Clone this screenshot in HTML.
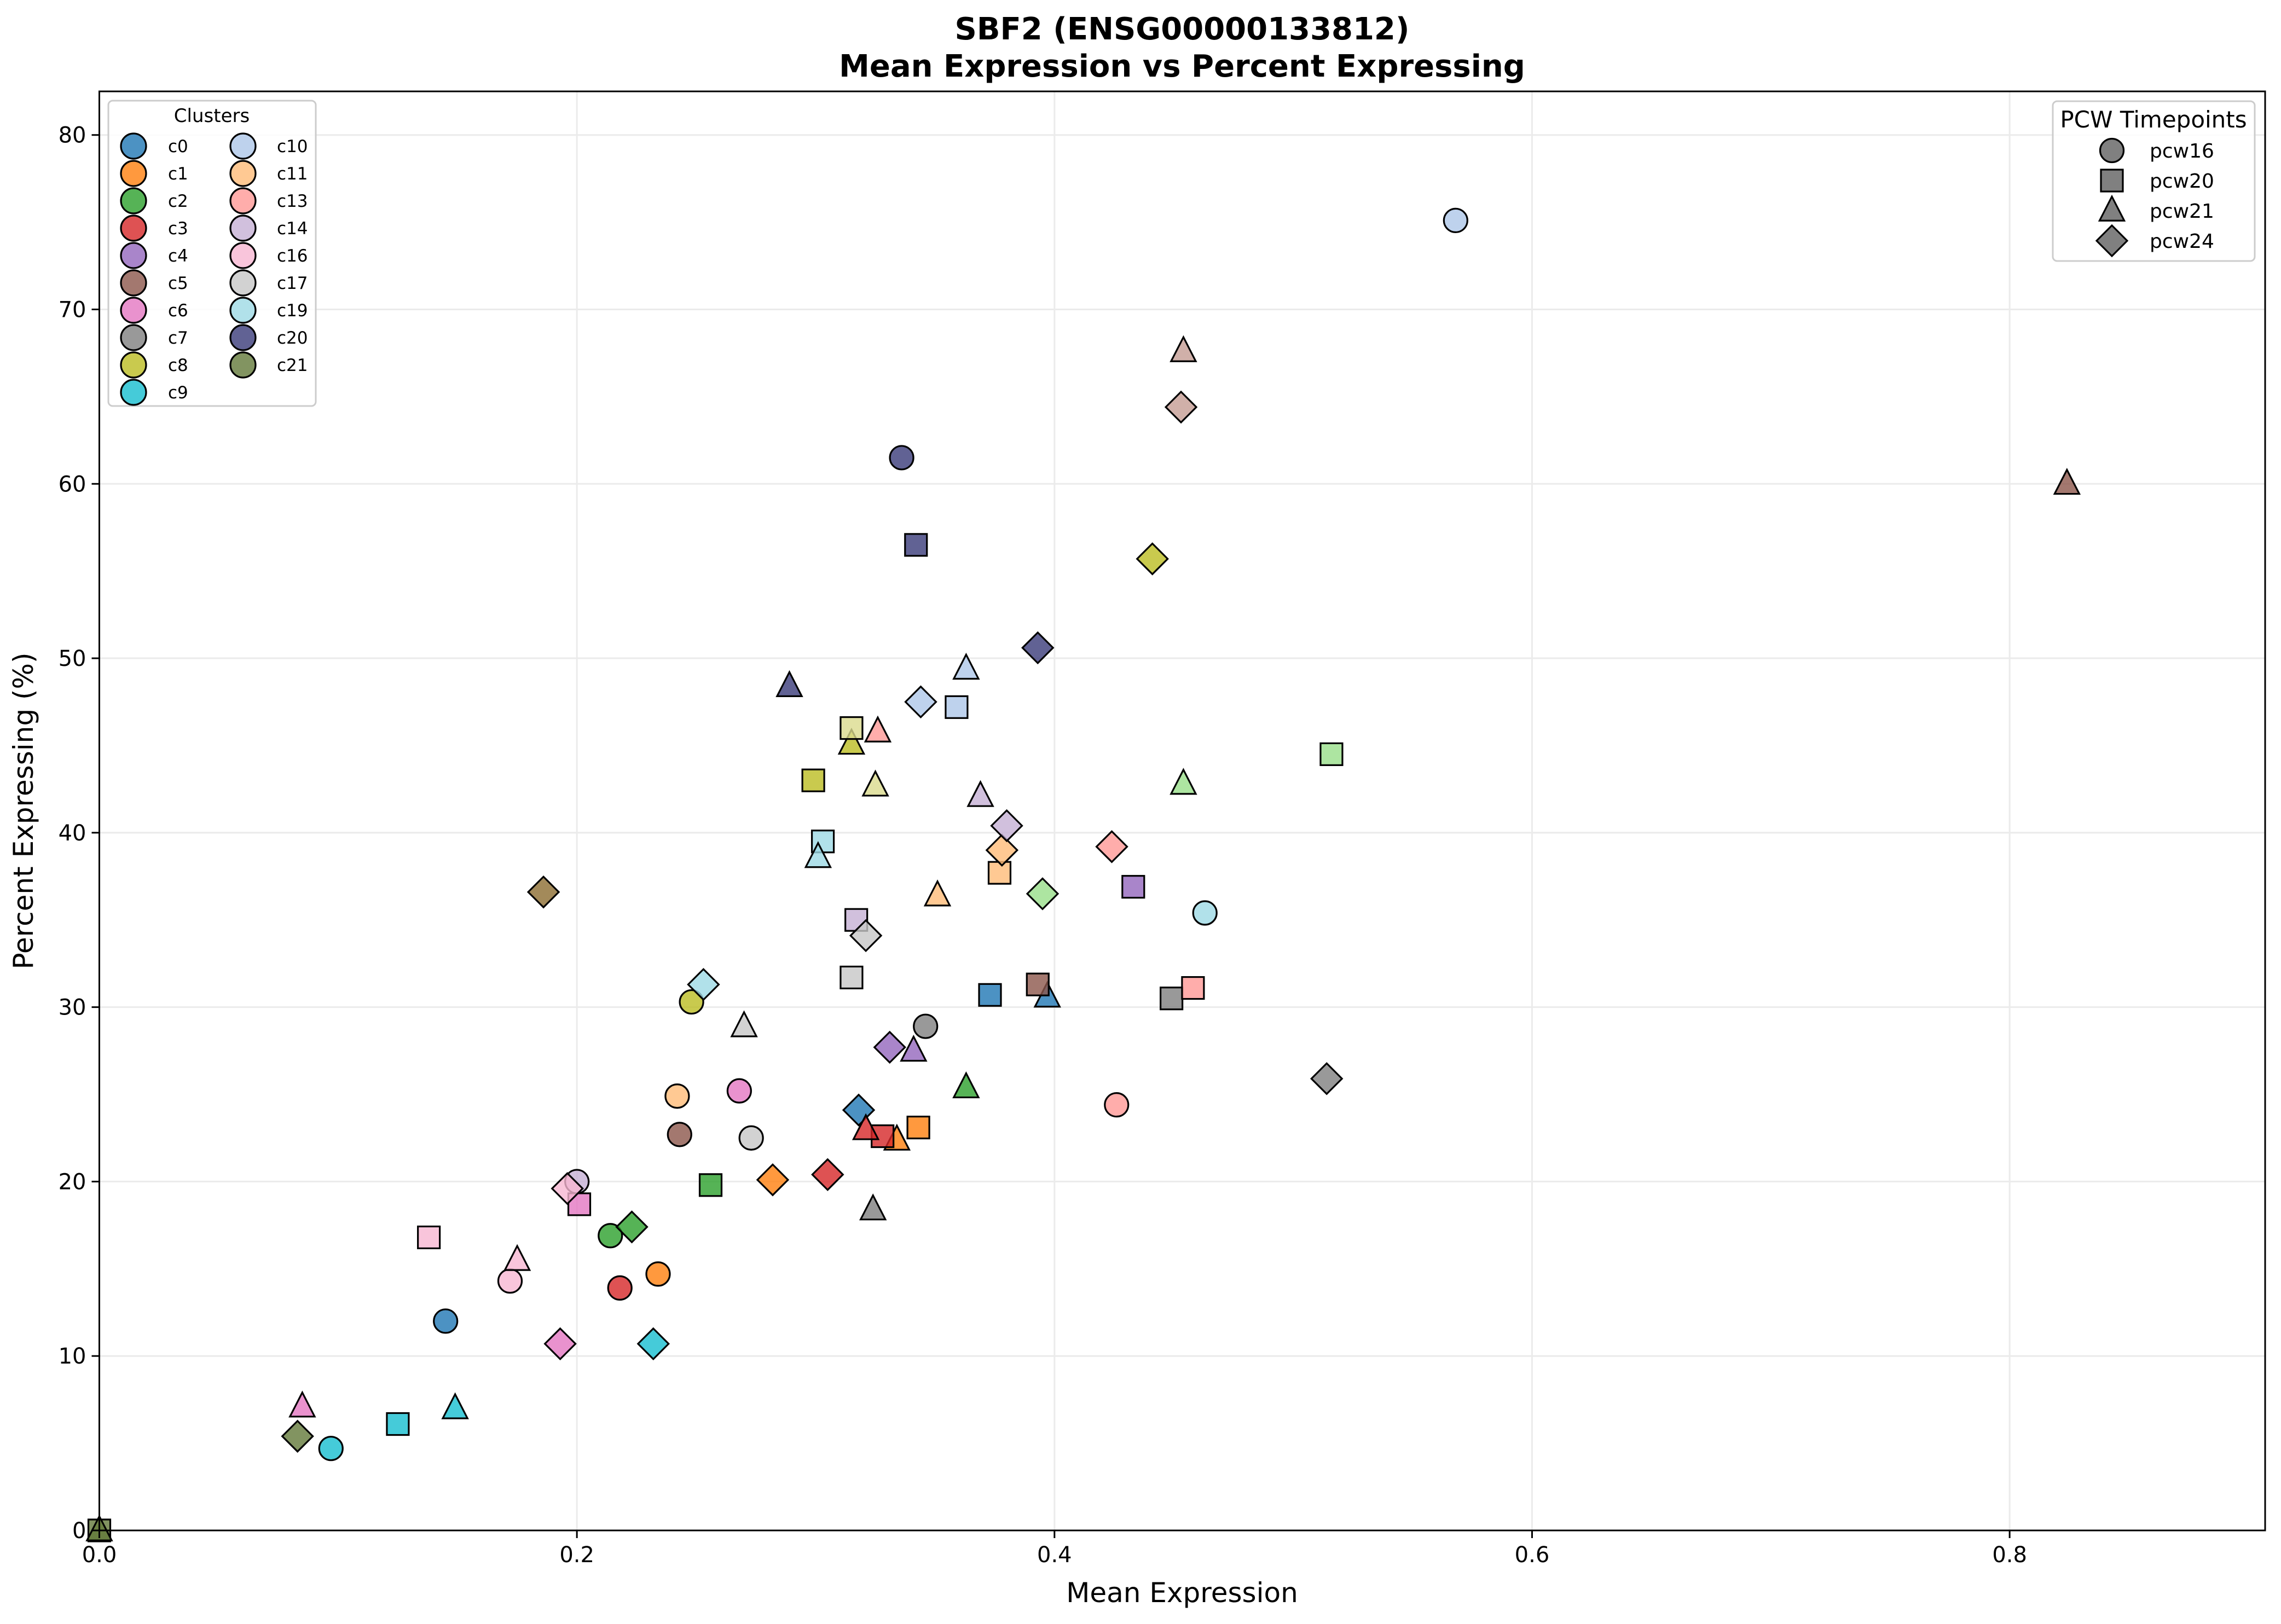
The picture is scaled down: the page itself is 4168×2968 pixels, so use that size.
<!DOCTYPE html>
<html><head><meta charset="utf-8"><style>
html,body{margin:0;padding:0;background:#fff;}
svg{display:block;font-family:"DejaVu Sans","Liberation Sans",sans-serif;}
</style></head><body>
<svg id="chart" width="4168" height="2968" viewBox="0 0 4168 2968" xmlns="http://www.w3.org/2000/svg">
<rect width="4168" height="2968" fill="#fff"/>
<text x="2160" y="72" text-anchor="middle" font-size="56" font-weight="bold">SBF2 (ENSG00000133812)</text>
<text x="2160" y="140" text-anchor="middle" font-size="56" font-weight="bold">Mean Expression vs Percent Expressing</text>
<g id="grid"></g>
<g id="marks"></g>
<rect x="181.5" y="167" width="3957.5" height="2630" fill="none" stroke="#000" stroke-width="3"/>
<g id="ticks"></g>
<text x="2160" y="2928" text-anchor="middle" font-size="50">Mean Expression</text>
<text transform="translate(60,1482) rotate(-90)" text-anchor="middle" font-size="50">Percent Expressing (%)</text>
<g id="legend1"></g>
<g id="legend2"></g>
</svg>
<script>
const clusterNames=["c0","c1","c2","c3","c4","c5","c6","c7","c8","c9","c10","c11","c12","c13","c14","c15","c16","c17","c18","c19","c20","c21","c22"];
const clusterColors=["#1f77b4","#ff7f0e","#2ca02c","#d62728","#9467bd","#8c564b","#e377c2","#7f7f7f","#bcbd22","#17becf","#aec7e8","#ffbb78","#98df8a","#ff9896","#c5b0d5","#c49c94","#f7b6d2","#c7c7c7","#dbdb8d","#9edae5","#393b79","#637939","#8c6d31"];
const legendClusters=["c0","c1","c2","c3","c4","c5","c6","c7","c8","c9","c10","c11","c13","c14","c16","c17","c19","c20","c21"];
const timepoints=["pcw16","pcw20","pcw21","pcw24"];
const shapes=["circle","square","triangle","diamond"];
// points: cluster, timepoint, mean expression, percent expressing
const pointCluster=["c0","c0","c0","c0","c1","c1","c1","c1","c2","c2","c2","c2","c3","c3","c3","c3","c4","c4","c4","c5","c5","c5","c6","c6","c6","c6","c7","c7","c7","c7","c8","c8","c8","c8","c9","c9","c9","c9","c10","c10","c10","c10","c11","c11","c11","c11","c12","c12","c12","c13","c13","c13","c13","c14","c14","c14","c14","c15","c15","c16","c16","c16","c16","c17","c17","c17","c17","c18","c18","c19","c19","c19","c19","c20","c20","c20","c20","c21","c21","c21","c22"];
const pointTime=["pcw16","pcw20","pcw21","pcw24","pcw16","pcw20","pcw21","pcw24","pcw16","pcw20","pcw21","pcw24","pcw16","pcw20","pcw21","pcw24","pcw20","pcw21","pcw24","pcw16","pcw20","pcw21","pcw16","pcw20","pcw21","pcw24","pcw16","pcw20","pcw21","pcw24","pcw16","pcw20","pcw21","pcw24","pcw16","pcw20","pcw21","pcw24","pcw16","pcw20","pcw21","pcw24","pcw16","pcw20","pcw21","pcw24","pcw20","pcw21","pcw24","pcw16","pcw20","pcw21","pcw24","pcw16","pcw20","pcw21","pcw24","pcw21","pcw24","pcw16","pcw20","pcw21","pcw24","pcw16","pcw20","pcw21","pcw24","pcw20","pcw21","pcw16","pcw20","pcw21","pcw24","pcw16","pcw20","pcw21","pcw24","pcw20","pcw21","pcw24","pcw24"];
const meanExpr=[0.145,0.373,0.397,0.318, 0.234,0.343,0.334,0.282, 0.214,0.256,0.363,0.223, 0.218,0.328,0.321,0.305, 0.433,0.341,0.331, 0.243,0.393,0.824, 0.268,0.201,0.085,0.193, 0.346,0.449,0.324,0.514, 0.248,0.299,0.315,0.441, 0.097,0.125,0.149,0.232, 0.568,0.359,0.363,0.344, 0.242,0.377,0.351,0.378, 0.516,0.454,0.395, 0.426,0.458,0.326,0.424, 0.200,0.317,0.369,0.380, 0.454,0.453, 0.172,0.138,0.175,0.196, 0.273,0.315,0.270,0.321, 0.315,0.325, 0.463,0.303,0.301,0.253, 0.336,0.342,0.289,0.393, 0.0,0.0,0.083, 0.186];
const pctExpr=[12.0,30.7,30.6,24.1, 14.7,23.1,22.4,20.1, 16.9,19.8,25.4,17.4, 13.9,22.6,23.0,20.4, 36.9,27.5,27.7, 22.7,31.3,60.0, 25.2,18.7,7.1,10.7, 28.9,30.5,18.4,25.9, 30.3,43.0,45.1,55.7, 4.7,6.1,7.0,10.7, 75.1,47.2,49.4,47.5, 24.9,37.7,36.4,39.0, 44.5,42.8,36.5, 24.4,31.1,45.8,39.2, 20.0,35.0,42.1,40.4, 67.6,64.4, 14.3,16.8,15.5,19.6, 22.5,31.7,28.9,34.1, 46.0,42.7, 35.4,39.5,38.6,31.3, 61.5,56.5,48.4,50.6, 0.0,0.0,5.4, 36.6];
const xTicks=[0,0.2,0.4,0.6,0.8];
const xTickLabels=["0.0","0.2","0.4","0.6","0.8"];
const yTicks=[0,10,20,30,40,50,60,70,80];
const yTickLabels=["0","10","20","30","40","50","60","70","80"];

const NS="http://www.w3.org/2000/svg";
const X0=181.5,X1=4139,Y0=2797,Y1=167,XMAX=0.907,YMAX=82.5;
function xs(v){return X0+v/XMAX*(X1-X0);}
function ys(v){return Y0-v/YMAX*(Y0-Y1);}
function mk(tag,attrs,parent){const e=document.createElementNS(NS,tag);for(const k in attrs)e.setAttribute(k,attrs[k]);parent.appendChild(e);return e;}
function marker(shape,cx,cy,r,fill,parent){
  let e;
  if(shape==="circle")e=mk("circle",{cx:cx,cy:cy,r:r},parent);
  else if(shape==="square")e=mk("rect",{x:cx-r*0.93,y:cy-r*0.93,width:r*1.86,height:r*1.86},parent);
  else if(shape==="triangle")e=mk("polygon",{points:`${cx},${cy-r*1.2} ${cx-r*1.05},${cy+r*0.85} ${cx+r*1.05},${cy+r*0.85}`},parent);
  else e=mk("polygon",{points:`${cx},${cy-r*1.3} ${cx+r*1.3},${cy} ${cx},${cy+r*1.3} ${cx-r*1.3},${cy}`},parent);
  e.setAttribute("fill",fill);e.setAttribute("fill-opacity","0.8");
  e.setAttribute("stroke","#000");e.setAttribute("stroke-width","3.2");
  return e;
}
const grid=document.getElementById("grid"),ticks=document.getElementById("ticks"),marks=document.getElementById("marks");
xTicks.forEach((t,i)=>{
  const g=mk("line",{x1:xs(t),x2:xs(t),y1:Y1,y2:Y0,stroke:"#ebebeb","stroke-width":3},grid);
  
  
  const tk=mk("line",{x1:xs(t),x2:xs(t),y1:Y0,y2:Y0+14,stroke:"#000","stroke-width":3},ticks);
  
  
  const tx=mk("text",{x:xs(t),y:Y0+58,"text-anchor":"middle","font-size":40},ticks);
  tx.textContent=xTickLabels[i];
  
  
});
yTicks.forEach((t,i)=>{
  const g=mk("line",{x1:X0,x2:X1,y1:ys(t),y2:ys(t),stroke:"#ebebeb","stroke-width":3},grid);
  
  
  const tk=mk("line",{x1:X0-14,x2:X0,y1:ys(t),y2:ys(t),stroke:"#000","stroke-width":3},ticks);
  
  
  const tx=mk("text",{x:X0-24,y:ys(t)+14,"text-anchor":"end","font-size":40},ticks);
  tx.textContent=yTickLabels[i];
  
  
});
pointCluster.forEach((c,i)=>{
  const col=clusterColors[clusterNames.indexOf(c)];
  const sh=shapes[timepoints.indexOf(pointTime[i])];
  const e=marker(sh,xs(meanExpr[i]),ys(pctExpr[i]),21.5,col,marks);
  
  
});
// cluster legend
const l1=document.getElementById("legend1");
const box1=mk("rect",{x:198,y:184,width:379,height:558,rx:8,fill:"#fff","fill-opacity":0.85,stroke:"#cccccc","stroke-width":3},l1);


const t1=mk("text",{x:387,y:223,"text-anchor":"middle","font-size":34},l1);
t1.textContent="Clusters";


legendClusters.forEach((c,i)=>{
  const col=i<10?0:1,row=i<10?i:i-10;
  const mx=col?444:244,tx=col?506:307,cy=267+row*50;
  const m=marker("circle",mx,cy,23,clusterColors[clusterNames.indexOf(c)],l1);
  
  
  const t=mk("text",{x:tx,y:cy+11,"font-size":31},l1);
  t.textContent=c;
  
  
});
// timepoint legend
const l2=document.getElementById("legend2");
const box2=mk("rect",{x:3751,y:185,width:369,height:292,rx:8,fill:"#fff","fill-opacity":0.85,stroke:"#cccccc","stroke-width":3},l2);


const t2=mk("text",{x:3935,y:233,"text-anchor":"middle","font-size":42},l2);
t2.textContent="PCW Timepoints";


timepoints.forEach((p,i)=>{
  const cy=275+i*55;
  const m=marker(shapes[i],3859,cy,21.5,"#808080",l2);
  m.setAttribute('fill-opacity','1');
  
  
  const t=mk("text",{x:3928,y:cy+13,"font-size":36},l2);
  t.textContent=p;
  
  
});
</script>
</body></html>
